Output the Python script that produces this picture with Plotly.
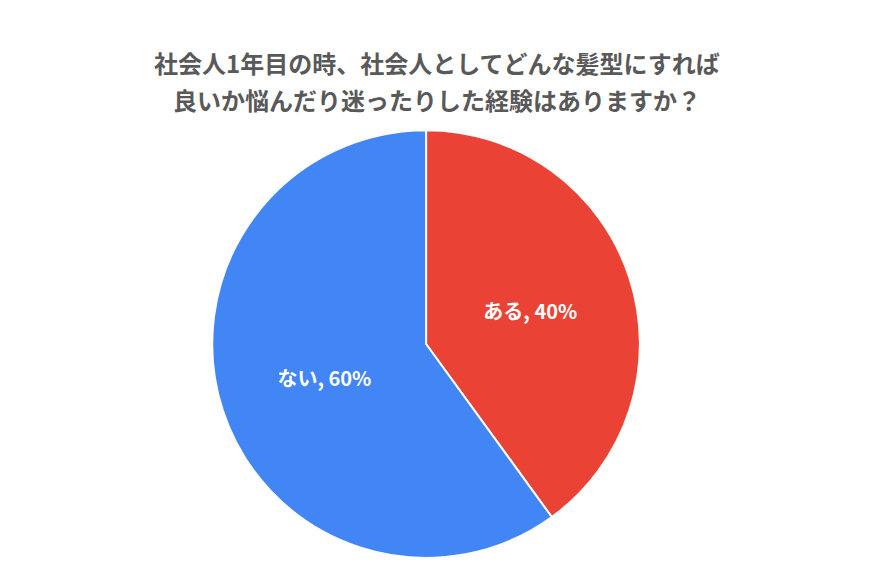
import plotly.graph_objects as go

labels = ["ある", "ない"]
values = [40, 60]
colors = ["#EA4335", "#4285F4"]
title_lines = ["社会人1年目の時、社会人としてどんな髪型にすれば", "良いか悩んだり迷ったりした経験はありますか？"]

fig = go.Figure(
    go.Pie(
        labels=labels,
        values=values,
        sort=False,
        direction="clockwise",
        rotation=0,
        marker=dict(colors=colors, line=dict(color="white", width=2)),
        texttemplate="%{label}, %{percent:.0%}",
        textposition="inside",
        insidetextorientation="horizontal",
        textfont=dict(color="white", size=20, family="Noto Sans CJK JP", weight="bold"),
        domain=dict(x=[0.234, 0.726], y=[0.037, 0.786]),
        showlegend=False,
        hoverinfo="label+percent",
    )
)

for i, line in enumerate(title_lines):
    fig.add_annotation(
        text=line,
        x=0.492,
        xref="paper",
        y=35 + 37 * i,
        yref="paper",
        showarrow=False,
        font=dict(size=24, color="#595959", family="Noto Sans CJK JP", weight="bold"),
    )
    # convert pixel y to paper coordinates
    fig.layout.annotations[-1].y = 1 - (35 + 37 * i) / 571

fig.update_layout(
    width=871,
    height=571,
    margin=dict(l=0, r=0, t=0, b=0),
    paper_bgcolor="white",
    font=dict(family="Noto Sans CJK JP"),
)

fig.write_html("out.html")
